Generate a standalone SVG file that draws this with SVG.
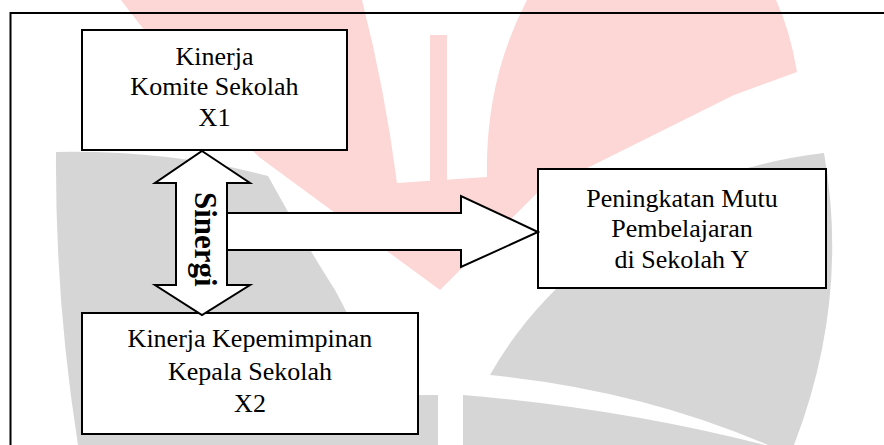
<svg xmlns="http://www.w3.org/2000/svg" width="884" height="445" viewBox="0 0 884 445">
  <style>
    .box { fill: #ffffff; stroke: #000000; stroke-width: 2; }
    .arrow { fill: #ffffff; stroke: #000000; stroke-width: 2; stroke-linejoin: miter; }
    .lbl { font-family: "Liberation Serif", "Times New Roman", serif; font-size: 26px; fill: #000000; text-anchor: middle; }
    .syn { font-family: "Liberation Serif", "Times New Roman", serif; font-size: 31px; font-weight: bold; fill: #000000; }
    .wm-pink { fill: #fdd6d6; }
    .wm-gray { fill: #d6d6d6; }
    .wm-white { fill: #ffffff; }
  </style>
  <rect x="0" y="0" width="884" height="445" fill="#ffffff"/>
  <g id="watermark">
    <path class="wm-pink" d="M 121 0 Q 185 85 259 157 L 440 290 L 537 193 L 734 95 L 797 72 Q 790 30 776 0 Z"/>
    <path class="wm-white" d="M 362 0 Q 385 90 397 183 L 487 177 Q 485 80 527 0 Z"/>
    <rect class="wm-pink" x="430" y="35" width="17" height="148"/>
    <path class="wm-gray" d="M 56 152 Q 170 150 268 176 Q 300 235 335 290 Q 365 345 380 395 L 438 395 L 438 445 L 78 445 Q 55 300 56 152 Z"/>
    <path class="wm-gray" d="M 463 395 Q 620 408 765 445 L 463 445 Z"/>
    <path class="wm-gray" d="M 490 375 Q 560 250 734 172 Q 780 158 824 153 Q 850 300 794 445 L 768 445 Q 640 390 490 375 Z"/>
  </g>
  <path id="frame" d="M 884 13 H 10.5 V 445" fill="none" stroke="#000000" stroke-width="2"/>
  <g id="node-x1">
    <rect class="box" x="82" y="30" width="265" height="120"/>
    <text class="lbl" x="214.5" y="64.5">Kinerja</text>
    <text class="lbl" x="214.5" y="95">Komite Sekolah</text>
    <text class="lbl" x="214.5" y="125.5">X1</text>
  </g>
  <g id="node-y">
    <rect class="box" x="538" y="169" width="288" height="119"/>
    <text class="lbl" x="682" y="206.5">Peningkatan Mutu</text>
    <text class="lbl" x="682" y="237">Pembelajaran</text>
    <text class="lbl" x="682" y="268">di Sekolah Y</text>
  </g>
  <g id="node-x2">
    <rect class="box" x="82" y="313" width="336" height="121"/>
    <text class="lbl" x="250" y="347">Kinerja Kepemimpinan</text>
    <text class="lbl" x="250" y="379.5">Kepala Sekolah</text>
    <text class="lbl" x="250" y="411.5">X2</text>
  </g>
  <g id="connectors">
    <polygon class="arrow" points="227,213 461,213 461,196 538,232 461,267 461,250 227,250"/>
    <polygon class="arrow" points="202,151 250,183 227,183 227,285 250,285 202,315 155,285 176,285 176,183 155,183"/>
    <text class="syn" transform="translate(195,192) rotate(90)">Sinergi</text>
  </g>
</svg>
